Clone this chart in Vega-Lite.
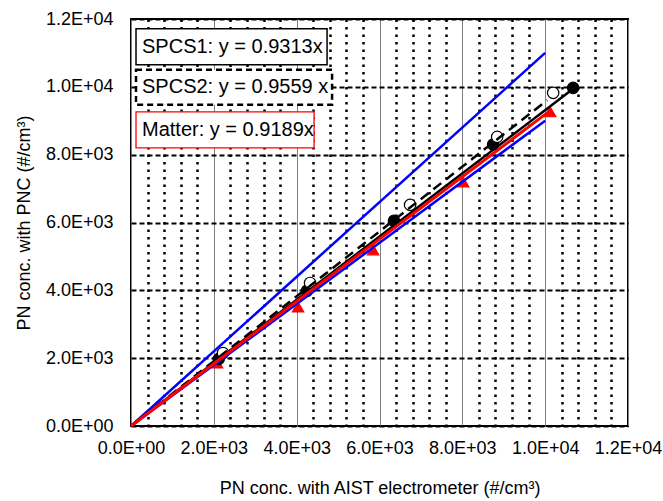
{
  "$schema": "https://vega.github.io/schema/vega-lite/v6.json",
  "width": 497,
  "height": 407,
  "autosize": "none",
  "padding": {"left": 131, "top": 19, "right": 35, "bottom": 75},
  "background": "white",
  "config": {
    "view": {"stroke": "black", "strokeWidth": 2},
    "font": "Liberation Sans",
    "axis": {
      "ticks": false,
      "domain": false,
      "labelFont": "Liberation Sans",
      "labelFontSize": 18,
      "labelColor": "black",
      "titleFont": "Liberation Sans",
      "titleFontSize": 18,
      "titleFontWeight": "normal",
      "titleColor": "black",
      "labelOverlap": false,
      "labelFlush": false
    }
  },
  "datasets": {
    "points": [
      {"series": "Matter", "x": 2077, "y": 1858},
      {"series": "Matter", "x": 4034, "y": 3510},
      {"series": "Matter", "x": 5845, "y": 5192},
      {"series": "Matter", "x": 8019, "y": 7198},
      {"series": "Matter", "x": 10121, "y": 9263},
      {"series": "SPCS1", "x": 2120, "y": 1980},
      {"series": "SPCS1", "x": 4250, "y": 3990},
      {"series": "SPCS1", "x": 6350, "y": 6050},
      {"series": "SPCS1", "x": 8744, "y": 8300},
      {"series": "SPCS1", "x": 10676, "y": 9970},
      {"series": "SPCS2", "x": 2222, "y": 2153},
      {"series": "SPCS2", "x": 4324, "y": 4218},
      {"series": "SPCS2", "x": 6739, "y": 6519},
      {"series": "SPCS2", "x": 8841, "y": 8525},
      {"series": "SPCS2", "x": 10193, "y": 9823}
    ],
    "fits": [
      {"line": "+10%", "x": 0, "y": 0},
      {"line": "+10%", "x": 10000, "y": 11000},
      {"line": "-10%", "x": 0, "y": 0},
      {"line": "-10%", "x": 10000, "y": 9000},
      {"line": "SPCS1 fit", "x": 0, "y": 0},
      {"line": "SPCS1 fit", "x": 10676, "y": 9942},
      {"line": "SPCS2 fit", "x": 0, "y": 0},
      {"line": "SPCS2 fit", "x": 10050, "y": 9607},
      {"line": "Matter fit", "x": 0, "y": 0},
      {"line": "Matter fit", "x": 10121, "y": 9300}
    ],
    "boxes": [
      {"note": "SPCS1", "x": 121, "x2": 4734, "y": 11711, "y2": 10649},
      {"note": "SPCS2", "x": 121, "x2": 4855, "y": 10501, "y2": 9469},
      {"note": "Matter", "x": 121, "x2": 4420, "y": 9263, "y2": 8200}
    ],
    "labels": [
      {"note": "SPCS1", "x": 266, "y": 11180, "text": "SPCS1: y = 0.9313x"},
      {"note": "SPCS2", "x": 266, "y": 9985, "text": "SPCS2: y = 0.9559 x"},
      {"note": "Matter", "x": 266, "y": 8732, "text": "Matter: y = 0.9189x"}
    ]
  },
  "encoding": {
    "x": {
      "field": "x",
      "type": "quantitative",
      "scale": {"domain": [0, 12000], "nice": false, "zero": false},
      "axis": {
        "title": "PN conc. with AIST electrometer (#/cm³)",
        "values": [0, 400, 800, 1200, 1600, 2000, 2400, 2800, 3200, 3600, 4000, 4400, 4800, 5200, 5600, 6000, 6400, 6800, 7200, 7600, 8000, 8400, 8800, 9200, 9600, 10000, 10400, 10800, 11200, 11600, 12000],
        "labelExpr": "datum.value % 2000 !== 0 ? '' : (datum.value === 0 ? '0.0E+00' : (datum.value < 10000 ? format(datum.value / 1000, '.1f') + 'E+03' : format(datum.value / 10000, '.1f') + 'E+04'))",
        "labelPadding": 13,
        "titlePadding": 22,
        "grid": true,
        "gridColor": {"condition": {"test": "datum.value % 2000 === 0", "value": "#808080"}, "value": "black"},
        "gridDash": {"condition": {"test": "datum.value % 2000 === 0", "value": []}, "value": [2.5, 5]},
        "gridWidth": {"condition": {"test": "datum.value % 2000 === 0", "value": 1}, "value": 2.5}
      }
    },
    "y": {
      "field": "y",
      "type": "quantitative",
      "scale": {"domain": [0, 12000], "nice": false, "zero": false},
      "axis": {
        "title": "PN conc. with PNC (#/cm³)",
        "values": [0, 2000, 4000, 6000, 8000, 10000, 12000],
        "labelExpr": "datum.value === 0 ? '0.0E+00' : (datum.value < 10000 ? format(datum.value / 1000, '.1f') + 'E+03' : format(datum.value / 10000, '.1f') + 'E+04')",
        "labelPadding": 18,
        "titlePadding": 12,
        "grid": true,
        "gridColor": "black",
        "gridDash": [5, 3],
        "gridWidth": 2
      }
    }
  },
  "layer": [
    {
      "data": {"name": "points"},
      "mark": {"type": "point", "filled": true, "strokeWidth": 1.2, "opacity": 1},
      "encoding": {
        "shape": {"field": "series", "type": "nominal", "scale": {"domain": ["Matter", "SPCS1", "SPCS2"], "range": ["triangle-up", "circle", "circle"]}, "legend": null},
        "fill": {"field": "series", "type": "nominal", "scale": {"domain": ["Matter", "SPCS1", "SPCS2"], "range": ["red", "black", "white"]}, "legend": null},
        "stroke": {"field": "series", "type": "nominal", "scale": {"domain": ["Matter", "SPCS1", "SPCS2"], "range": ["red", "black", "black"]}, "legend": null},
        "size": {"value": 130}
      }
    },
    {
      "data": {"name": "fits"},
      "transform": [{"filter": "datum.line === '+10%' || datum.line === '-10%'"}],
      "mark": {"type": "line", "color": "#0000ff", "strokeWidth": 2.5},
      "encoding": {"detail": {"field": "line"}}
    },
    {
      "data": {"name": "fits"},
      "transform": [{"filter": "datum.line === 'SPCS1 fit'"}],
      "mark": {"type": "line", "color": "black", "strokeWidth": 2.5},
      "encoding": {"detail": {"field": "line"}}
    },
    {
      "data": {"name": "fits"},
      "transform": [{"filter": "datum.line === 'SPCS2 fit'"}],
      "mark": {"type": "line", "color": "black", "strokeWidth": 2.5, "strokeDash": [10, 6]},
      "encoding": {"detail": {"field": "line"}}
    },
    {
      "data": {"name": "fits"},
      "transform": [{"filter": "datum.line === 'Matter fit'"}],
      "mark": {"type": "line", "color": "red", "strokeWidth": 3},
      "encoding": {"detail": {"field": "line"}}
    },
    {
      "data": {"name": "boxes"},
      "transform": [{"filter": "datum.note === 'SPCS1'"}],
      "mark": {"type": "rect", "fill": "white", "stroke": "black", "strokeWidth": 1.5},
      "encoding": {"x2": {"field": "x2"}, "y2": {"field": "y2"}}
    },
    {
      "data": {"name": "boxes"},
      "transform": [{"filter": "datum.note === 'SPCS2'"}],
      "mark": {"type": "rect", "fill": "white", "stroke": "black", "strokeWidth": 2.5, "strokeDash": [6, 4]},
      "encoding": {"x2": {"field": "x2"}, "y2": {"field": "y2"}}
    },
    {
      "data": {"name": "boxes"},
      "transform": [{"filter": "datum.note === 'Matter'"}],
      "mark": {"type": "rect", "fill": "white", "stroke": "red", "strokeWidth": 1.3},
      "encoding": {"x2": {"field": "x2"}, "y2": {"field": "y2"}}
    },
    {
      "data": {"name": "labels"},
      "mark": {"type": "text", "align": "left", "baseline": "middle", "fontSize": 20, "font": "Liberation Sans", "color": "black"},
      "encoding": {"text": {"field": "text"}}
    }
  ]
}
